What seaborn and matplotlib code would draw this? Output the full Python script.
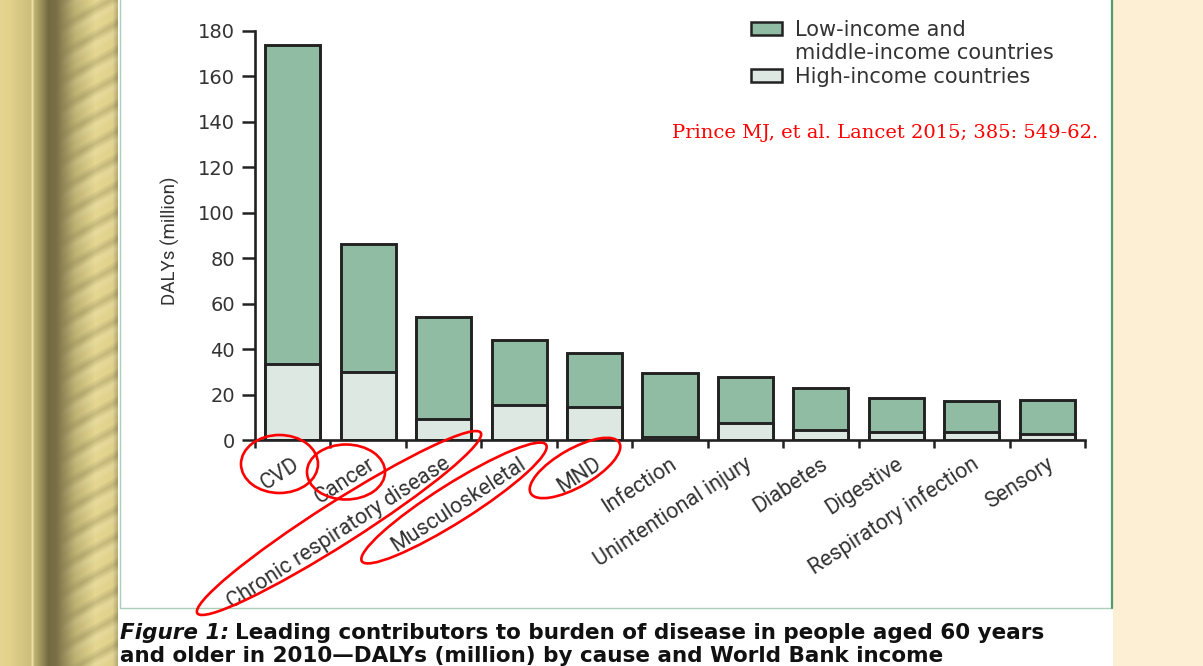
import numpy as np
import pandas as pd
import matplotlib
matplotlib.use("Agg")
import matplotlib.pyplot as plt
import matplotlib.transforms as mtransforms
from matplotlib.patches import Ellipse, Rectangle, Patch
import seaborn as sns

# DALYs (million) by cause, people aged 60+, 2010
causes = ["CVD", "Cancer", "Chronic respiratory disease", "Musculoskeletal", "MND",
          "Infection", "Unintentional injury", "Diabetes", "Digestive",
          "Respiratory infection", "Sensory"]
high_income = [33.4, 30.0, 9.2, 15.4, 14.5, 1.3, 7.5, 4.4, 3.5, 3.5, 2.6]
low_middle_income = [140.4, 56.3, 44.9, 28.6, 23.8, 28.2, 20.2, 18.5, 15.0, 13.7, 15.0]
y_ticks = [0, 20, 40, 60, 80, 100, 120, 140, 160, 180]

LMIC_COLOR = "#8fbca3"
HIC_COLOR = "#dde8e2"
EDGE = "#222222"

W, H = 1203, 666
sns.set_theme(style="white")
plt.rcParams["font.family"] = ["DejaVu Sans"]

fig = plt.figure(figsize=(W / 100, H / 100), dpi=100)

# ---- slide decoration (pixel coordinates) ----
bg = fig.add_axes([0, 0, 1, 1], zorder=0)
bg.set_xlim(0, W)
bg.set_ylim(H, 0)
bg.axis("off")

# bamboo strip on the left
xs = np.arange(118)
ys = np.arange(H)
kx = [0, 8, 30, 32, 34, 48, 56, 75, 95, 112, 118]
kc = np.array([[228, 212, 143], [226, 210, 140], [205, 190, 124], [236, 224, 162],
               [192, 178, 112], [116, 106, 66], [122, 112, 72], [190, 178, 115],
               [229, 215, 146], [224, 209, 139], [175, 165, 112]], float)
profile = np.stack([np.interp(xs, kx, kc[:, i]) for i in range(3)], axis=1)
img = np.repeat(profile[None, :, :], H, axis=0)
X, Y = np.meshgrid(xs, ys)
phase = np.mod(Y + 0.55 * X, 27.0)
ramp = np.clip((X - 58) / 25, 0, 1)
stripe = np.clip(1 - np.abs(phase - 6) / 7, 0, 1) * ramp
shine = np.clip(1 - np.abs(phase - 15) / 6, 0, 1) * ramp
img = img * (1 - 0.13 * stripe[..., None]) + (255 - img) * 0.10 * shine[..., None]
bg.imshow(img.astype(np.uint8), extent=[0, 118, H, 0], aspect="auto", interpolation="bilinear")

# white figure panel, framed in green, on beige paper
bg.add_patch(Rectangle((118, 0), 995, H, facecolor="white", edgecolor="none"))
bg.plot([119.5, 119.5], [0, 608], color="#a9cfb8", lw=1.0)
bg.plot([119.5, 1112], [608, 608], color="#a9cfb8", lw=1.0)
bg.plot([1112, 1112], [0, 608], color="#4f9d6c", lw=1.6)
bg.add_patch(Rectangle((1113.2, 0), W - 1113, H, facecolor="#fcefd3", edgecolor="none"))

# ---- bar chart ----
ax = fig.add_axes([255 / W, 1 - 440 / H, 830 / W, 409 / H], zorder=2)
ax.patch.set_alpha(0)

df = pd.DataFrame({"cause": causes, "hic": high_income, "lmic": low_middle_income})
df["total"] = df["hic"] + df["lmic"]

sns.barplot(data=df, x="cause", y="total", order=causes, color=LMIC_COLOR, saturation=1,
            edgecolor=EDGE, linewidth=2.1, width=0.73, ax=ax)
sns.barplot(data=df, x="cause", y="hic", order=causes, color=HIC_COLOR, saturation=1,
            edgecolor=EDGE, linewidth=2.1, width=0.73, ax=ax)

ax.set_xlim(-0.5, len(causes) - 0.5)
ax.set_ylim(0, 180)
ax.set_yticks(y_ticks)
ax.set_yticklabels([str(v) for v in y_ticks], fontsize=14, color="#333333")
ax.tick_params(axis="y", direction="out", length=9.5, width=1.8, color=EDGE, pad=5, left=True)

for s in ["top", "right"]:
    ax.spines[s].set_visible(False)
for s in ["left", "bottom"]:
    ax.spines[s].set_color(EDGE)
    ax.spines[s].set_linewidth(1.9)

# category labels at bar centres, boundary ticks between bars
ax.set_xticks(np.arange(len(causes)))
ax.set_xticklabels(causes, rotation=33, ha="right", va="center", rotation_mode="anchor",
                   fontsize=15.5, color="#333333", family="Roboto")
ax.tick_params(axis="x", which="major", length=0, pad=16)
ax.set_xticks(np.arange(-0.5, len(causes)), minor=True)
ax.tick_params(axis="x", which="minor", direction="out", length=6, width=1.8, color=EDGE, bottom=True)
offset = mtransforms.ScaledTranslation(5 / 100, 0, fig.dpi_scale_trans)
for lbl in ax.get_xticklabels():
    lbl.set_transform(lbl.get_transform() + offset)

ax.set_xlabel("")
ax.set_ylabel("")
fig.text(170 / W, 1 - 241 / H, "DALYs (million)", rotation=90, ha="center", va="center",
         fontsize=13.5, color="#333333", family="Roboto")

handles = [Patch(facecolor=LMIC_COLOR, edgecolor=EDGE, linewidth=1.8),
           Patch(facecolor="none", edgecolor="none"),
           Patch(facecolor=HIC_COLOR, edgecolor=EDGE, linewidth=1.8)]
labels = ["Low-income and", "middle-income countries", "High-income countries"]
fig.legend(handles, labels, loc="upper left", bbox_to_anchor=(751 / W, 1 - 20 / H),
           bbox_transform=fig.transFigure, frameon=False, fontsize=15, labelcolor="#333333",
           handlelength=1.5, handleheight=0.58, handletextpad=0.6, labelspacing=0.16,
           borderpad=0, borderaxespad=0)

fig.text(1098 / W, 1 - 133 / H, "Prince MJ, et al. Lancet 2015; 385: 549-62.",
         ha="right", va="center", color="#ff0000", fontsize=14, family="DejaVu Serif")

# ---- red highlight ellipses (pixel coordinates) ----
ov = fig.add_axes([0, 0, 1, 1], zorder=5)
ov.set_xlim(0, W)
ov.set_ylim(H, 0)
ov.axis("off")
ov.patch.set_alpha(0)
rings = [((279.5, 464), 77, 58, 0), ((346, 472), 78, 55, 0),
         ((339, 523), 336, 42, -32.5), ((454, 503), 218, 38, -32.3),
         ((575, 468), 102, 38, -29.7)]
for c, w, h, a in rings:
    ov.add_patch(Ellipse(c, w, h, angle=a, facecolor="none", edgecolor="#ff0000", lw=1.9))

# ---- caption ----
cap = dict(fontsize=15.5, weight="bold", family="DejaVu Sans", color="#111111", va="baseline")
t1 = fig.text(120 / W, 1 - 639 / H, "Figure 1:", style="italic", **cap)
fig.canvas.draw()
bb = t1.get_window_extent()
fig.text((bb.x1 + 6) / W, 1 - 639 / H,
         "Leading contributors to burden of disease in people aged 60 years", **cap)
fig.text(120 / W, 1 - 662 / H,
         "and older in 2010\u2014DALYs (million) by cause and World Bank income", **cap)

fig.savefig("out.png", dpi=100)
